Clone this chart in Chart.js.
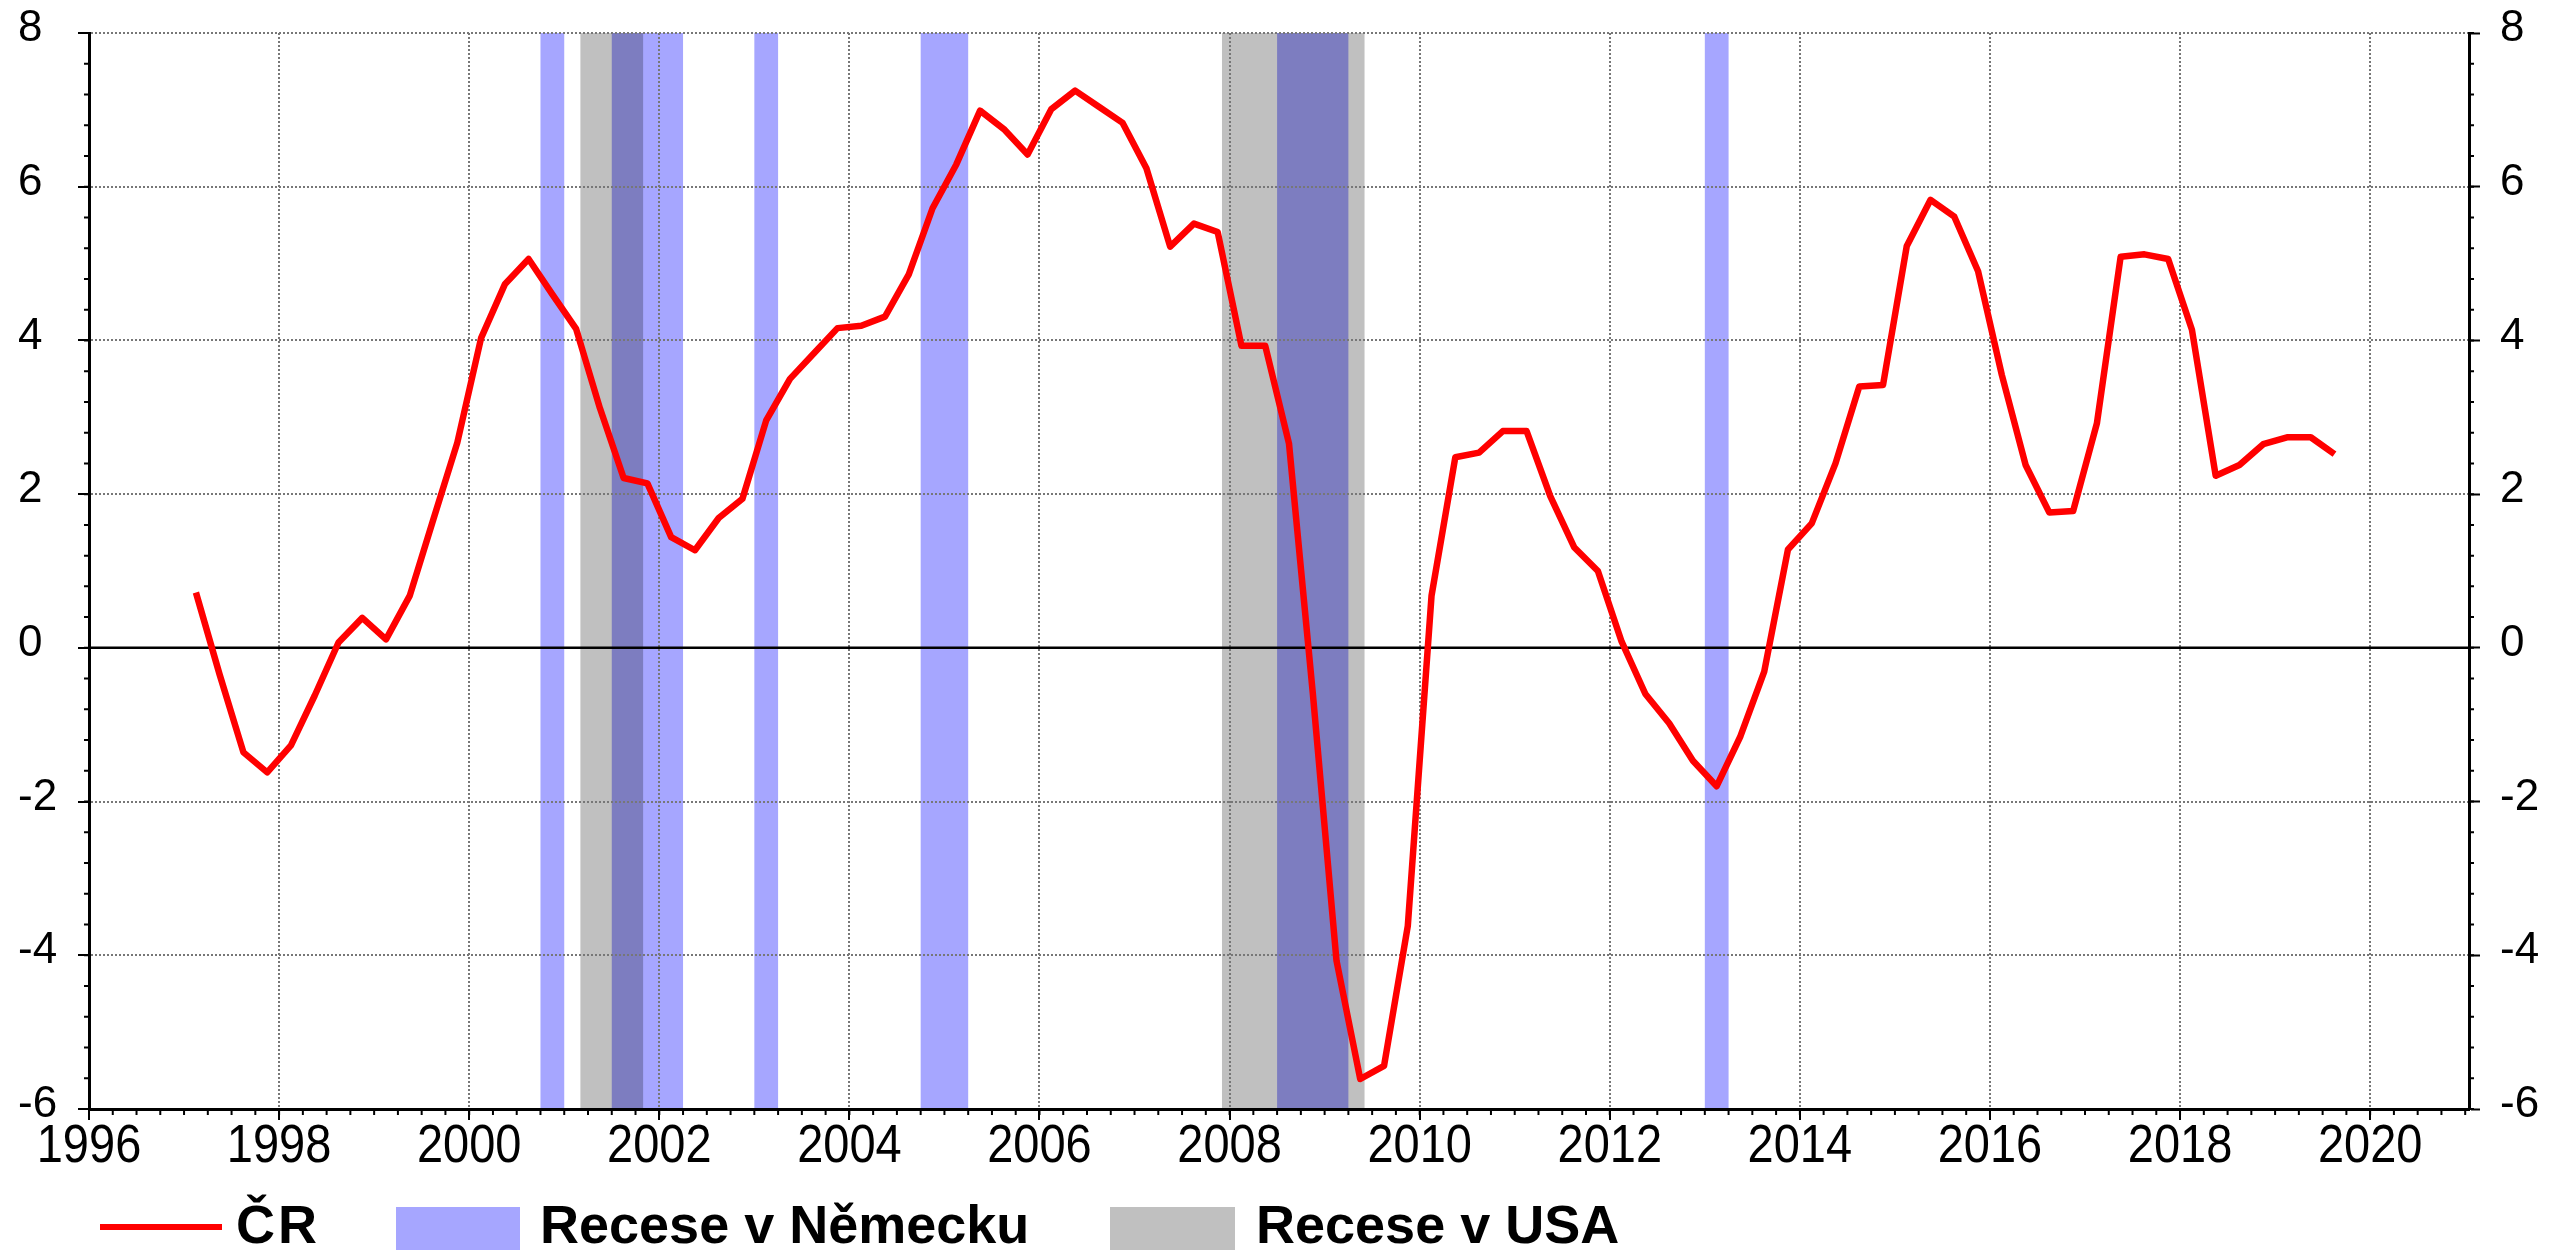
<!DOCTYPE html>
<html>
<head>
<meta charset="utf-8">
<script src="https://cdn.jsdelivr.net/npm/chart.js@4.4.0/dist/chart.umd.min.js"></script>
<style>
  html, body { margin: 0; padding: 0; background: #fff; }
  #wrap { position: relative; width: 2552px; height: 1250px; overflow: hidden; }
  #graf { position: absolute; left: 0; top: 0; }
  .leg { position: absolute; font-family: "Liberation Sans", Arial, sans-serif; font-weight: bold;
         font-size: 54px; line-height: 1; color: #000; white-space: nowrap; }
  .znacka { position: absolute; }
</style>
</head>
<body>
<div id="wrap">
  <canvas id="graf" width="2552" height="1250"></canvas>
  <div class="znacka" style="left:100px; top:1224px; width:122px; height:6px; background:#ff0000"></div>
  <div class="leg" style="left:236px; top:1197px; letter-spacing:3px">ČR</div>
  <div class="znacka" style="left:396px; top:1207px; width:124px; height:50px; background:#a6a6ff"></div>
  <div class="leg" style="left:540px; top:1197px">Recese v Německu</div>
  <div class="znacka" style="left:1110px; top:1207px; width:125px; height:50px; background:#c0c0c0"></div>
  <div class="leg" style="left:1256px; top:1197px">Recese v USA</div>
</div>

<script>
/* ------------------
  data
-------------------*/
var ctvrtleti = [
  '1997Q1','1997Q2','1997Q3','1997Q4', '1998Q1','1998Q2','1998Q3','1998Q4',
  '1999Q1','1999Q2','1999Q3','1999Q4', '2000Q1','2000Q2','2000Q3','2000Q4',
  '2001Q1','2001Q2','2001Q3','2001Q4', '2002Q1','2002Q2','2002Q3','2002Q4',
  '2003Q1','2003Q2','2003Q3','2003Q4', '2004Q1','2004Q2','2004Q3','2004Q4',
  '2005Q1','2005Q2','2005Q3','2005Q4', '2006Q1','2006Q2','2006Q3','2006Q4',
  '2007Q1','2007Q2','2007Q3','2007Q4', '2008Q1','2008Q2','2008Q3','2008Q4',
  '2009Q1','2009Q2','2009Q3','2009Q4', '2010Q1','2010Q2','2010Q3','2010Q4',
  '2011Q1','2011Q2','2011Q3','2011Q4', '2012Q1','2012Q2','2012Q3','2012Q4',
  '2013Q1','2013Q2','2013Q3','2013Q4', '2014Q1','2014Q2','2014Q3','2014Q4',
  '2015Q1','2015Q2','2015Q3','2015Q4', '2016Q1','2016Q2','2016Q3','2016Q4',
  '2017Q1','2017Q2','2017Q3','2017Q4', '2018Q1','2018Q2','2018Q3','2018Q4',
  '2019Q1','2019Q2','2019Q3'
];

var hdpCR = [
  0.72, -0.35, -1.36, -1.62,   -1.27, -0.62, 0.07, 0.39,
  0.11, 0.68, 1.68, 2.67,      4.03, 4.73, 5.06, 4.60,
  4.15, 3.12, 2.21, 2.14,      1.44, 1.27, 1.69, 1.94,
  2.96, 3.50, 3.83, 4.16,      4.19, 4.31, 4.86, 5.72,
  6.29, 6.99, 6.75, 6.42,      7.01, 7.25, 7.04, 6.83,
  6.24, 5.22, 5.52, 5.41,      3.93, 3.93, 2.66, -0.58,
  -4.07, -5.61, -5.44, -3.62,  0.68, 2.48, 2.54, 2.82,
  2.82, 1.97, 1.31, 1.00,      0.08, -0.60, -0.98, -1.47,
  -1.80, -1.15, -0.31, 1.28,   1.62, 2.40, 3.40, 3.42,
  5.23, 5.83, 5.61, 4.90,      3.55, 2.38, 1.76, 1.78,
  2.92, 5.09, 5.12, 5.06,      4.14, 2.24, 2.38, 2.65,
  2.74, 2.74, 2.52
];

// recese v Nemecku: prvni a posledni ctvrtleti
var receseNemecko = [
  ['2000Q4', '2000Q4'], ['2001Q3', '2002Q1'], ['2003Q1', '2003Q1'],
  ['2004Q4', '2005Q1'], ['2008Q3', '2009Q1'], ['2013Q1', '2013Q1']
];

// recese v USA (NBER), v letech
var receseUSA = [[2001.17, 2001.83], [2007.92, 2009.42]];

var rozsahX = [1996, 2021.04];
var rozsahY = [-6, 8];

var barvaCR = '#ff0000';
var barvaNemecko = '#a6a6ff';
var barvaUSA = '#c0c0c0';
var pismo = '"Liberation Sans", Arial, sans-serif';

/* ------------------
  prevody ctvrtleti
-------------------*/
function stredCtvrtleti(s) {
  return parseInt(s.substr(0, 4)) + (parseInt(s.substr(5)) - 0.5) / 4;
}
function zacatekCtvrtleti(s) {
  return parseInt(s.substr(0, 4)) + (parseInt(s.substr(5)) - 1) / 4;
}
function konecCtvrtleti(s) {
  return parseInt(s.substr(0, 4)) + parseInt(s.substr(5)) / 4;
}

/* ------------------
  plugin: pasy recesi
-------------------*/
var recesePlugin = {
  id: 'recese',
  beforeDraw: function (chart) {
    var ctx = chart.ctx, a = chart.chartArea, x = chart.scales.x;
    function pas(od, po) {
      var x0 = x.getPixelForValue(od), x1 = x.getPixelForValue(po);
      ctx.fillRect(x0, a.top, x1 - x0, a.bottom - a.top);
    }
    ctx.save();
    ctx.beginPath();
    ctx.rect(a.left, a.top, a.right - a.left, a.bottom - a.top);
    ctx.clip();
    ctx.fillStyle = barvaUSA;
    receseUSA.forEach(function (r) { pas(r[0], r[1]); });
    // prekryv ztmavne jako v originale
    ctx.globalCompositeOperation = 'multiply';
    ctx.fillStyle = barvaNemecko;
    receseNemecko.forEach(function (r) { pas(zacatekCtvrtleti(r[0]), konecCtvrtleti(r[1])); });
    ctx.restore();
  }
};

/* ------------------
  plugin: nulova cara, vedlejsi znacky, popisky let
-------------------*/
var osyPlugin = {
  id: 'osy',
  beforeDatasetsDraw: function (chart) {
    var ctx = chart.ctx, a = chart.chartArea, x = chart.scales.x, y = chart.scales.y;
    ctx.save();
    ctx.strokeStyle = '#000';

    ctx.lineWidth = 2.5;
    ctx.beginPath();
    var y0 = y.getPixelForValue(0);
    ctx.moveTo(a.left, y0);
    ctx.lineTo(a.right, y0);
    ctx.stroke();

    ctx.lineWidth = 2;
    ctx.beginPath();
    var k, px;
    for (k = 0; rozsahX[0] + k * 0.25 <= rozsahX[1]; k++) {
      px = x.getPixelForValue(rozsahX[0] + k * 0.25);
      ctx.moveTo(px, a.bottom);
      ctx.lineTo(px, a.bottom + 6);
    }
    for (k = 0; k <= Math.round((rozsahY[1] - rozsahY[0]) / 0.4); k++) {
      px = y.getPixelForValue(rozsahY[0] + k * 0.4);
      ctx.moveTo(a.left, px);
      ctx.lineTo(a.left - 5, px);
      ctx.moveTo(a.right, px);
      ctx.lineTo(a.right + 5, px);
    }
    ctx.stroke();
    ctx.restore();
  },
  // roky jsou v originale uzsi a vyssi nez bezne pismo
  afterDraw: function (chart) {
    var ctx = chart.ctx, a = chart.chartArea, x = chart.scales.x;
    ctx.save();
    ctx.fillStyle = '#000';
    ctx.font = '54px ' + pismo;
    ctx.textAlign = 'center';
    ctx.textBaseline = 'alphabetic';
    x.ticks.forEach(function (t) {
      ctx.save();
      ctx.translate(x.getPixelForValue(t.value), a.bottom + 53);
      ctx.scale(0.87, 1);
      ctx.fillText(String(t.value), 0, 0);
      ctx.restore();
    });
    ctx.restore();
  }
};

/* ------------------
  graf
-------------------*/
var osaYTicks = {
  stepSize: 2, padding: 20, color: '#000', labelOffset: -4,
  font: { family: pismo, size: 44 }
};
var mrizka = { color: '#777777', lineWidth: 2, tickColor: '#000', tickLength: 11, tickWidth: 2 };

// pevna sirka svislych os, bez extra mezery nad a pod
function pevnaOsaY(s) {
  s.width = 71;
  s.paddingTop = 0;
  s.paddingBottom = 0;
}

new Chart(document.getElementById('graf'), {
  type: 'line',
  data: {
    datasets: [{
      label: 'ČR',
      data: hdpCR.map(function (v, i) { return { x: stredCtvrtleti(ctvrtleti[i]), y: v }; }),
      borderColor: barvaCR,
      borderWidth: 6.5,
      borderJoinStyle: 'round',
      pointRadius: 0,
      tension: 0,
      fill: false
    }]
  },
  options: {
    responsive: false,
    animation: false,
    devicePixelRatio: 1,
    layout: { autoPadding: false, padding: { left: 18, right: 12, top: 33, bottom: 81 } },
    plugins: { legend: { display: false }, tooltip: { enabled: false } },
    scales: {
      x: {
        type: 'linear', position: 'bottom', min: rozsahX[0], max: rozsahX[1],
        afterFit: function (s) { s.height = 60; s.paddingLeft = 0; s.paddingRight = 0; },
        ticks: { stepSize: 2, includeBounds: false, display: false },
        grid: mrizka,
        border: { display: true, color: '#000', width: 3, dash: [2, 2] }
      },
      y: {
        position: 'left', min: rozsahY[0], max: rozsahY[1],
        afterFit: pevnaOsaY,
        ticks: Object.assign({ crossAlign: 'far' }, osaYTicks),
        grid: mrizka,
        border: { display: true, color: '#000', width: 3, dash: [2, 2] }
      },
      y2: {
        position: 'right', min: rozsahY[0], max: rozsahY[1],
        afterFit: pevnaOsaY,
        ticks: osaYTicks,
        grid: { drawOnChartArea: false, tickColor: '#000', tickLength: 11, tickWidth: 2 },
        border: { display: true, color: '#000', width: 3 }
      }
    }
  },
  plugins: [recesePlugin, osyPlugin]
});
</script>
</body>
</html>
